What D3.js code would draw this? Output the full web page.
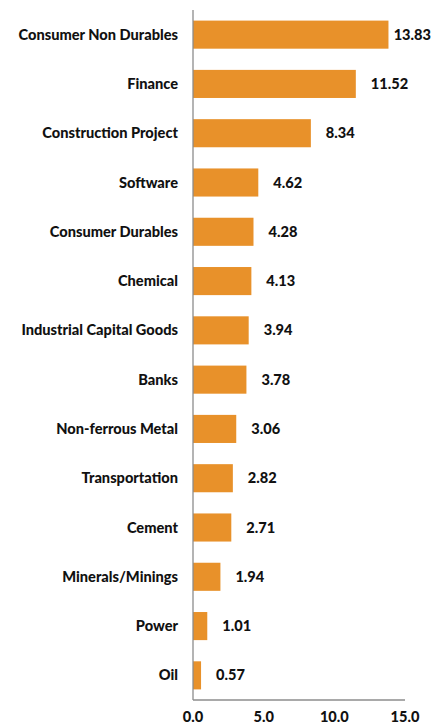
<!DOCTYPE html>
<html>
<head>
<meta charset="utf-8">
<script src="https://cdn.jsdelivr.net/npm/d3@7"></script>
<style>
  html, body { margin: 0; padding: 0; background: #fff; }
  svg { display: block; }
  text { font-family: Lato, "Open Sans", sans-serif; font-weight: 900; fill: #111; }
</style>
</head>
<body>
<svg id="chart" width="432" height="726"></svg>
<script>
// Sector values, top to bottom
const categories = [
  "Consumer Non Durables", "Finance", "Construction Project", "Software",
  "Consumer Durables", "Chemical", "Industrial Capital Goods", "Banks",
  "Non-ferrous Metal", "Transportation", "Cement", "Minerals/Minings",
  "Power", "Oil"
];
const values = [13.83, 11.52, 8.34, 4.62, 4.28, 4.13, 3.94, 3.78, 3.06, 2.82, 2.71, 1.94, 1.01, 0.57];
const xTicks = [0, 5, 10, 15];

const W = 432, H = 726;
const margin = { left: 193, right: 27, top: 10, bottom: 26 };
const fontSize = 14.6;
const svg = d3.select("#chart");

const x = d3.scaleLinear().domain([0, 15]).range([margin.left, W - margin.right]);
const y = d3.scaleBand().domain(categories).range([margin.top, H - margin.bottom]).paddingInner(0.43).paddingOuter(0.215);

const data = categories.map((c, i) => ({ c, v: values[i] }));

// bars
svg.append("g").selectAll("rect").data(data).join("rect")
  .attr("x", x(0))
  .attr("y", d => y(d.c))
  .attr("width", d => x(d.v) - x(0))
  .attr("height", y.bandwidth())
  .attr("fill", "#E8912A");

// axes
const axisColor = "#8c8c8c";
svg.append("line")
  .attr("x1", x(0)).attr("x2", x(0))
  .attr("y1", margin.top).attr("y2", H - margin.bottom)
  .attr("stroke", axisColor).attr("stroke-width", 1.3);
svg.append("line")
  .attr("x1", x(0)).attr("x2", x(15))
  .attr("y1", H - margin.bottom).attr("y2", H - margin.bottom)
  .attr("stroke", axisColor).attr("stroke-width", 1.3);

// category labels
svg.append("g").selectAll("text").data(data).join("text")
  .attr("x", x(0) - 15)
  .attr("y", d => y(d.c) + y.bandwidth() / 2)
  .attr("dy", "0.35em")
  .attr("text-anchor", "end")
  .attr("font-size", fontSize)
  .text(d => d.c);

// value labels, kept inside the canvas
const vl = svg.append("g").selectAll("text").data(data).join("text")
  .attr("y", d => y(d.c) + y.bandwidth() / 2)
  .attr("dy", "0.35em")
  .attr("font-size", fontSize)
  .text(d => d.v.toFixed(2));
vl.attr("x", function(d) {
  const w = this.getComputedTextLength();
  return Math.min(x(d.v) + 15, W - w - 1);
});

// x tick labels
svg.append("g").selectAll("text").data(xTicks).join("text")
  .attr("x", d => x(d))
  .attr("y", H - 4)
  .attr("text-anchor", "middle")
  .attr("font-size", fontSize)
  .text(d => d.toFixed(1));
</script>
</body>
</html>
